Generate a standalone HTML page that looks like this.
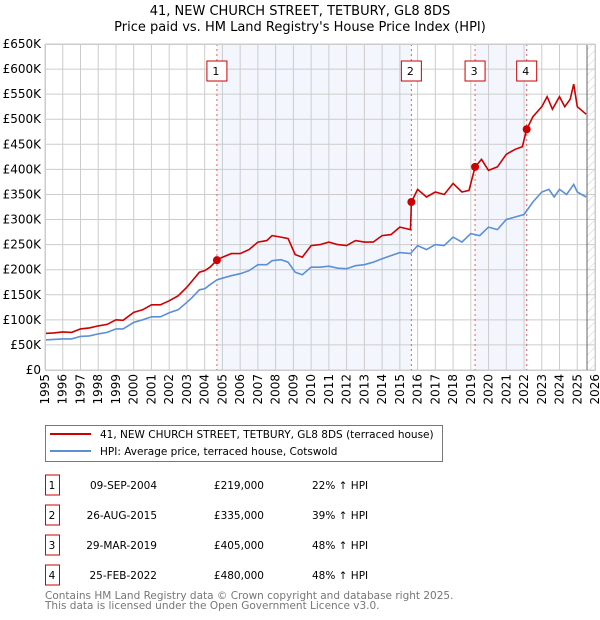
<!DOCTYPE html>
<html><head><meta charset="utf-8"><style>
body{margin:0;background:#fff}
svg{display:block;font-family:"DejaVu Sans","Liberation Sans",sans-serif}
</style></head><body>
<svg id="c" width="600" height="620" viewBox="0 0 600 620">
<text x="300" y="15" text-anchor="middle" font-size="13">41, NEW CHURCH STREET, TETBURY, GL8 8DS</text>
<text x="300" y="31" text-anchor="middle" font-size="13">Price paid vs. HM Land Registry's House Price Index (HPI)</text>
<defs><pattern id="hatch" width="6" height="6" patternUnits="userSpaceOnUse" patternTransform="rotate(45)"><line x1="0" y1="0" x2="0" y2="6" stroke="#ccc" stroke-width="1"/></pattern></defs>
<g id="plot"></g>
<g>
<rect x="45.5" y="425.5" width="397" height="36" fill="#fff" stroke="#777"/>
<line x1="50" y1="434" x2="91" y2="434" stroke="#cc0000" stroke-width="2"/>
<text x="100" y="438" font-size="10.5">41, NEW CHURCH STREET, TETBURY, GL8 8DS (terraced house)</text>
<line x1="50" y1="451" x2="91" y2="451" stroke="#5b8fd6" stroke-width="2"/>
<text x="100" y="455" font-size="10.5">HPI: Average price, terraced house, Cotswold</text>
</g>
<g id="table" font-size="10.5"></g>
<text x="45" y="599" font-size="10.5" fill="#777">Contains HM Land Registry data © Crown copyright and database right 2025.</text>
<text x="45" y="609" font-size="10.5" fill="#777">This data is licensed under the Open Government Licence v3.0.</text>
</svg>
<script>
const yTicks=[0,50,100,150,200,250,300,350,400,450,500,550,600,650];
const yTickLabels=["£0","£50K","£100K","£150K","£200K","£250K","£300K","£350K","£400K","£450K","£500K","£550K","£600K","£650K"];
const xYears=[1995,1996,1997,1998,1999,2000,2001,2002,2003,2004,2005,2006,2007,2008,2009,2010,2011,2012,2013,2014,2015,2016,2017,2018,2019,2020,2021,2022,2023,2024,2025,2026];
const hpiT=[1995,1995.5,1996,1996.5,1997,1997.5,1998,1998.5,1999,1999.4,2000,2000.5,2001,2001.5,2002,2002.5,2003,2003.3,2003.7,2004,2004.3,2004.7,2005,2005.5,2006,2006.5,2007,2007.5,2007.8,2008.3,2008.7,2009.1,2009.5,2010,2010.5,2011,2011.5,2012,2012.5,2013,2013.5,2014,2014.5,2015,2015.6,2016,2016.5,2017,2017.5,2018,2018.5,2019,2019.5,2020,2020.5,2021,2021.5,2022,2022.5,2023,2023.4,2023.7,2024,2024.4,2024.8,2025,2025.5];
const hpiV=[60,61,62,62,67,68,72,75,82,82,95,100,106,106,114,120,135,145,160,162,170,180,183,188,192,198,210,210,218,220,215,195,190,205,205,207,203,202,208,210,215,222,228,234,232,248,240,250,248,265,255,272,268,285,280,300,305,310,335,355,360,345,360,350,370,355,345];
const priceT=[1995,1995.5,1996,1996.5,1997,1997.5,1998,1998.5,1999,1999.4,2000,2000.5,2001,2001.5,2002,2002.5,2003,2003.3,2003.7,2004,2004.3,2004.69,2005,2005.5,2006,2006.5,2007,2007.5,2007.8,2008.3,2008.7,2009.1,2009.5,2010,2010.5,2011,2011.5,2012,2012.5,2013,2013.5,2014,2014.5,2015,2015.6,2015.65,2016,2016.5,2017,2017.5,2018,2018.5,2018.9,2019.24,2019.6,2020,2020.5,2021,2021.5,2021.9,2022.15,2022.5,2023,2023.3,2023.6,2024,2024.3,2024.6,2024.8,2025,2025.5];
const priceV=[73,74,76,75,82,84,88,91,100,99,115,120,130,130,138,148,165,178,195,198,205,219,225,232,232,240,255,258,268,265,262,230,225,248,250,255,250,248,258,255,255,268,270,285,280,335,360,345,355,350,372,355,358,405,420,398,405,430,440,445,480,505,525,545,520,545,525,540,570,525,510];
const sales=[{n:"1",t:2004.69,v:219,date:"09-SEP-2004",price:"£219,000",hpi:"22% ↑ HPI"},{n:"2",t:2015.65,v:335,date:"26-AUG-2015",price:"£335,000",hpi:"39% ↑ HPI"},{n:"3",t:2019.24,v:405,date:"29-MAR-2019",price:"£405,000",hpi:"48% ↑ HPI"},{n:"4",t:2022.15,v:480,date:"25-FEB-2022",price:"£480,000",hpi:"48% ↑ HPI"}];
const NS="http://www.w3.org/2000/svg";
const L=45,R=595,T=44,B=370;
const x=t=>L+(t-1995)*(R-L)/31;
const y=v=>B-v*(B-T)/650;
const plot=document.getElementById('plot');
function mk(tag,at,parent){const e=document.createElementNS(NS,tag);for(const k in at)e.setAttribute(k,at[k]);(parent||plot).appendChild(e);return e;}
let s1=mk('rect',{x:x(sales[0].t),y:T,width:x(sales[1].t)-x(sales[0].t),height:B-T,fill:'#eef3fc',opacity:0.7});


let s2=mk('rect',{x:x(sales[2].t),y:T,width:x(sales[3].t)-x(sales[2].t),height:B-T,fill:'#eef3fc',opacity:0.7});


let hz=mk('rect',{x:x(2025.55),y:T,width:R-x(2025.55),height:B-T,fill:'url(#hatch)'});


yTicks.forEach((v,i)=>{
  let g=mk('line',{x1:L,x2:R,y1:y(v),y2:y(v),stroke:'#ccc','stroke-width':1});
  
  
  let t=mk('text',{x:L-4,y:y(v)+4,'text-anchor':'end','font-size':12});
  t.textContent=yTickLabels[i];
  
  
});
xYears.forEach(yr=>{
  let g=mk('line',{x1:x(yr),x2:x(yr),y1:T,y2:B,stroke:'#ccc','stroke-width':1});
  
  
  let t=mk('text',{x:0,y:0,'text-anchor':'end','font-size':12,transform:`translate(${x(yr)+4},374) rotate(-90)`});
  t.textContent=yr;
  
  
});
let vl=mk('line',{x1:x(2025.55),x2:x(2025.55),y1:T,y2:B,stroke:'#666','stroke-width':1});


sales.forEach(s=>{
  let d=mk('line',{x1:x(s.t),x2:x(s.t),y1:T,y2:B,stroke:'#e06060','stroke-width':1,'stroke-dasharray':'2,3'});
  
  
  let r=mk('rect',{x:x(s.t)-10,y:61,width:20,height:20,fill:'#fff',stroke:'#cc0000'});
  
  
  let t=mk('text',{x:x(s.t)-1,y:75,'text-anchor':'middle','font-size':11});
  t.textContent=s.n;
  
  
});
function path(ts,vs){return ts.map((t,i)=>(i?'L':'M')+x(t).toFixed(1)+','+y(vs[i]).toFixed(1)).join('');}
let hp=mk('path',{d:path(hpiT,hpiV),fill:'none',stroke:'#5b8fd6','stroke-width':1.6});


let pp=mk('path',{d:path(priceT,priceV),fill:'none',stroke:'#cc0000','stroke-width':1.6});


sales.forEach(s=>{
  let c=mk('circle',{cx:x(s.t),cy:y(s.v),r:4,fill:'#cc0000'});
  
  
});
let ax=mk('rect',{x:L+0.5,y:T+0.5,width:R-L,height:B-T,fill:'none',stroke:'#ccc'});


const tb=document.getElementById('table');
sales.forEach((s,i)=>{
  const cy=483+i*30;
  let r=mk('rect',{x:45.5,y:cy-8,width:14,height:20,fill:'#fff',stroke:'#cc0000'},tb);
  
  
  let n=mk('text',{x:52,y:cy+6,'text-anchor':'middle'},tb);n.textContent=s.n;
  
  
  let d=mk('text',{x:157,y:cy+6,'text-anchor':'end'},tb);d.textContent=s.date;
  
  
  let p=mk('text',{x:264,y:cy+6,'text-anchor':'end'},tb);p.textContent=s.price;
  
  
  let h=mk('text',{x:312,y:cy+6},tb);h.textContent=s.hpi;
  
  
});
</script>
</body></html>
